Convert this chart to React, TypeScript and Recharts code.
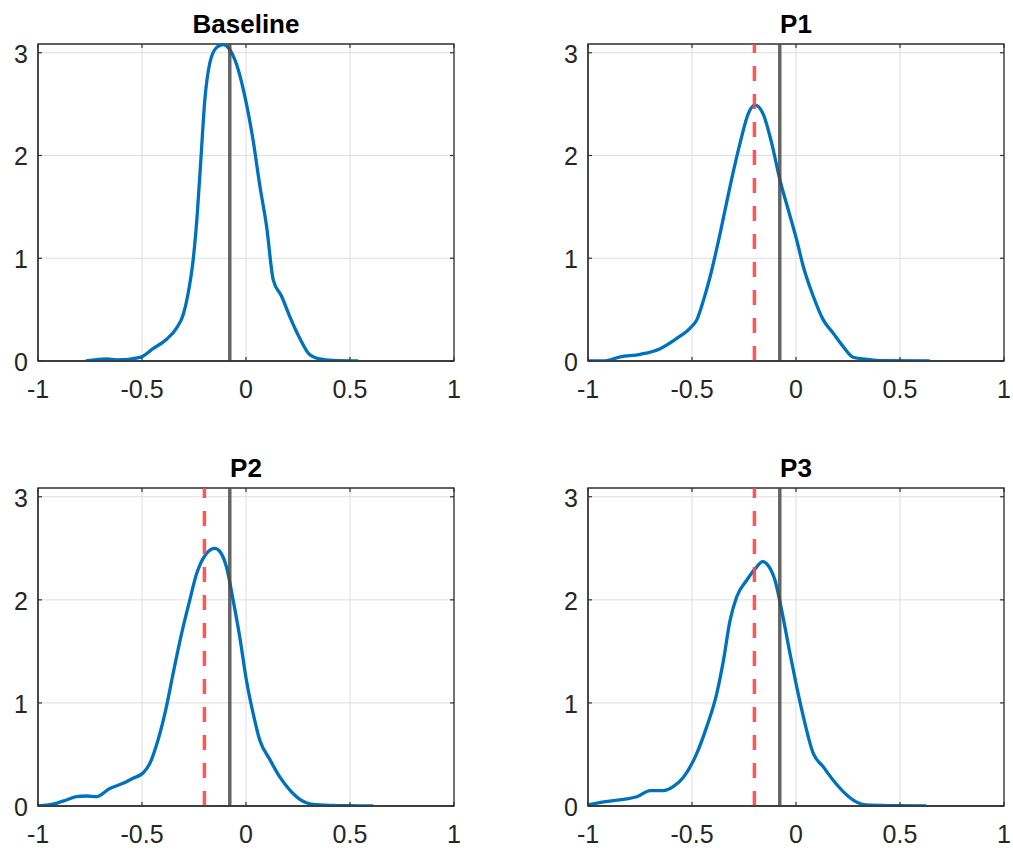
import { LineChart, Line, XAxis, YAxis, CartesianGrid, ReferenceLine, ReferenceArea } from 'recharts';

const xTicks = [-1, -0.5, 0, 0.5, 1];
const yTicks = [0, 1, 2, 3];
const yMax = 3.085;

const baselineX = [-0.77, -0.67, -0.62, -0.51, -0.447, -0.383, -0.334, -0.302, -0.278, -0.254, -0.235, -0.217, -0.198, -0.174, -0.142, -0.11, -0.078, -0.046, -0.006, 0.034, 0.067, 0.099, 0.131, 0.171, 0.211, 0.259, 0.307, 0.355, 0.419, 0.54];
const baselineY = [0, 0.02, 0.01, 0.035, 0.12, 0.21, 0.32, 0.45, 0.66, 0.985, 1.41, 1.96, 2.54, 2.9, 3.05, 3.08, 3.03, 2.89, 2.58, 2.15, 1.7, 1.31, 0.79, 0.63, 0.43, 0.22, 0.06, 0.02, 0.005, 0];

const p1X = [-1, -0.925, -0.845, -0.749, -0.653, -0.573, -0.509, -0.477, -0.445, -0.413, -0.365, -0.317, -0.269, -0.229, -0.197, -0.157, -0.117, -0.077, -0.037, 0.003, 0.035, 0.083, 0.131, 0.179, 0.227, 0.275, 0.323, 0.403, 0.643];
const p1Y = [0, 0, 0.04, 0.065, 0.12, 0.22, 0.32, 0.4, 0.59, 0.82, 1.24, 1.7, 2.12, 2.41, 2.49, 2.4, 2.12, 1.76, 1.47, 1.18, 0.92, 0.63, 0.4, 0.27, 0.14, 0.036, 0.02, 0.003, 0];

const p2X = [-1, -0.912, -0.864, -0.816, -0.767, -0.72, -0.655, -0.591, -0.543, -0.495, -0.463, -0.423, -0.383, -0.35, -0.31, -0.27, -0.238, -0.19, -0.15, -0.126, -0.094, -0.062, -0.03, 0.002, 0.034, 0.066, 0.115, 0.163, 0.211, 0.259, 0.323, 0.419, 0.5, 0.612];
const p2Y = [0, 0.026, 0.058, 0.09, 0.097, 0.09, 0.17, 0.22, 0.27, 0.32, 0.41, 0.64, 0.96, 1.29, 1.67, 2.0, 2.25, 2.45, 2.5, 2.47, 2.32, 2.0, 1.64, 1.22, 0.9, 0.64, 0.45, 0.28, 0.155, 0.065, 0.016, 0.006, 0.003, 0];

const p3X = [-1, -0.925, -0.829, -0.765, -0.701, -0.637, -0.589, -0.541, -0.477, -0.429, -0.381, -0.349, -0.317, -0.285, -0.237, -0.197, -0.16, -0.133, -0.101, -0.069, -0.029, 0.003, 0.035, 0.083, 0.131, 0.179, 0.227, 0.275, 0.339, 0.467, 0.627];
const p3Y = [0.01, 0.04, 0.065, 0.09, 0.15, 0.15, 0.19, 0.28, 0.51, 0.77, 1.09, 1.41, 1.8, 2.03, 2.19, 2.3, 2.37, 2.33, 2.19, 1.9, 1.48, 1.16, 0.87, 0.51, 0.38, 0.25, 0.14, 0.058, 0.01, 0.003, 0];

const grayLineX = -0.078;
const redLineX = -0.2;

const FONT = '"Liberation Sans", Arial, Helvetica, sans-serif';
const AXIS = '#333333';
const TICK_LEN = 4;
const PLOT_W = 416;

const toRows = (xs: number[], ys: number[]) => xs.map((x, i) => ({ x, y: ys[i] }));

const panels = [
  { title: 'Baseline', rows: toRows(baselineX, baselineY), red: false, left: 0, top: 0, plotH: 317 },
  { title: 'P1', rows: toRows(p1X, p1Y), red: true, left: 550, top: 0, plotH: 317 },
  { title: 'P2', rows: toRows(p2X, p2Y), red: true, left: 0, top: 444, plotH: 318 },
  { title: 'P3', rows: toRows(p3X, p3Y), red: true, left: 550, top: 444, plotH: 318 },
];

// bottom labels plus inward ticks on bottom and top edges
const makeBottomTick = (plotH: number) => (props: any) => {
  const { x, y, payload } = props;
  const axisY = y - 19;
  return (
    <g>
      <line x1={x} x2={x} y1={axisY} y2={axisY - TICK_LEN} stroke={AXIS} strokeWidth={1.2} />
      <line x1={x} x2={x} y1={axisY - plotH} y2={axisY - plotH + TICK_LEN} stroke={AXIS} strokeWidth={1.2} />
      <text x={x} y={y} dy="0.71em" textAnchor="middle" fontSize={25} fill="#262626" fontFamily={FONT}>
        {String(payload.value)}
      </text>
    </g>
  );
};

// left labels plus inward ticks on left and right edges
const LeftTick = (props: any) => {
  const { x, y, payload } = props;
  const axisX = x + 10;
  return (
    <g>
      <line x1={axisX} x2={axisX + TICK_LEN} y1={y} y2={y} stroke={AXIS} strokeWidth={1.2} />
      <line x1={axisX + PLOT_W} x2={axisX + PLOT_W - TICK_LEN} y1={y} y2={y} stroke={AXIS} strokeWidth={1.2} />
      <text x={x} y={y + 1} dy="0.355em" textAnchor="end" fontSize={25} fill="#262626" fontFamily={FONT}>
        {String(payload.value)}
      </text>
    </g>
  );
};

const Panel = ({ p }: { p: (typeof panels)[number] }) => {
  const marginTop = 44;
  const height = marginTop + p.plotH + 59;
  const BottomTick = makeBottomTick(p.plotH);
  return (
    <div style={{ position: 'absolute', left: p.left, top: p.top, width: 470, height }}>
      <div
        style={{
          position: 'absolute',
          left: 38,
          width: PLOT_W,
          top: 11,
          textAlign: 'center',
          fontFamily: FONT,
          fontWeight: 'bold',
          fontSize: 26,
          lineHeight: '26px',
          color: '#000',
        }}
      >
        {p.title}
      </div>
      <LineChart width={470} height={height} margin={{ top: marginTop, right: 16, bottom: 0, left: 0 }}>
        <CartesianGrid stroke="#dedede" strokeWidth={1} />
        <XAxis
          dataKey="x"
          type="number"
          domain={[-1, 1]}
          ticks={xTicks}
          allowDataOverflow
          height={59}
          tickSize={19}
          tickMargin={0}
          tickLine={false}
          axisLine={{ stroke: AXIS, strokeWidth: 1.3 }}
          tick={<BottomTick />}
          interval={0}
        />
        <YAxis
          type="number"
          domain={[0, yMax]}
          ticks={yTicks}
          allowDataOverflow
          width={38}
          tickSize={10}
          tickMargin={0}
          tickLine={false}
          axisLine={{ stroke: AXIS, strokeWidth: 1.3 }}
          tick={<LeftTick />}
          interval={0}
        />
        <Line
          data={p.rows}
          dataKey="y"
          type="monotone"
          stroke="#0072BD"
          strokeWidth={3.3}
          dot={false}
          activeDot={false}
          isAnimationActive={false}
        />
        <ReferenceLine x={grayLineX} stroke="#4a4a4a" strokeOpacity={0.85} strokeWidth={3.5} />
        {p.red && (
          <ReferenceLine x={redLineX} stroke="#ff4545" strokeOpacity={0.9} strokeWidth={3.5} strokeDasharray="15 13" />
        )}
        <ReferenceArea x1={-1} x2={1} y1={0} y2={yMax} fill="none" stroke={AXIS} strokeWidth={1.3} />
      </LineChart>
    </div>
  );
};

export default function App() {
  return (
    <div
      style={{
        position: 'absolute',
        left: 0,
        top: 0,
        width: 1013,
        height: 851,
        background: '#fff',
        overflow: 'hidden',
      }}
    >
      {panels.map((p) => (
        <Panel key={p.title} p={p} />
      ))}
    </div>
  );
}
